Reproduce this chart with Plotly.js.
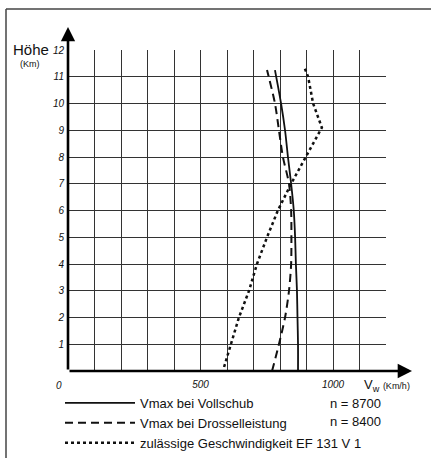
<!DOCTYPE html>
<html>
<head>
<meta charset="utf-8">
<script src="https://cdn.plot.ly/plotly-3.0.1.min.js"></script>
<style>
html,body{margin:0;padding:0;background:#fff;}
#chart{width:431px;height:458px;}
</style>
</head>
<body>
<div id="chart"></div>
<script>
// Höhe (km) and speed (km/h)
var hoeheVoll = [0, 1, 2, 3, 4, 5, 6, 7, 8, 9, 10, 11.25];
var vVoll     = [868, 868, 866, 864, 860, 857, 852, 842, 830, 819, 804, 781];

var hoeheDross = [0, 1, 2, 3, 4, 5, 6, 7, 8, 9, 10, 11.25];
var vDross     = [770, 796, 819, 834, 842, 843, 842, 834, 811, 796, 781, 751];

var hoeheZul = [0.15, 1, 2, 3, 4, 5, 6, 7, 8, 9.1, 10, 11, 11.3];
var vZul     = [589, 615, 645, 683, 713, 751, 792, 842, 898, 958, 925, 906, 894];

var seriesNames = ["Vmax bei Vollschub", "Vmax bei Drosselleistung", "zulässige Geschwindigkeit EF 131 V 1"];
var seriesN = ["n = 8700", "n = 8400"];

var xTickVals = [0,100,200,300,400,500,600,700,800,900,1000,1100,1200];
var xTickText = ["","","","","","500","","","","","1000","",""];
var yTickVals = [1,2,3,4,5,6,7,8,9,10,11,12];
var yTickText = ["1","2","3","4","5","6","7","8","9","10","11","12"];

var FONT = "Liberation Sans, Arial, sans-serif";

var traces = [
  {x: vVoll, y: hoeheVoll, name: seriesNames[0], mode: "lines",
   line: {color: "#111", width: 1.8, shape: "spline", smoothing: 0.8}},
  {x: vDross, y: hoeheDross, name: seriesNames[1], mode: "lines",
   line: {color: "#111", width: 2, dash: "8px,5px", shape: "spline", smoothing: 0.8}},
  {x: vZul, y: hoeheZul, name: seriesNames[2], mode: "lines",
   line: {color: "#111", width: 2.5, dash: "dot"}}
];

function px(x) { return (x - 68) / 318; }
function py(y) { return (371 - y) / 321; }

function label(x, y, text, size, extra) {
  var a = {xref: "paper", yref: "paper", x: px(x), y: py(y), text: text, showarrow: false,
    xanchor: "center", yanchor: "middle", font: {family: FONT, size: size, color: "#111"}};
  for (var k in (extra || {})) a[k] = extra[k];
  return a;
}

var annotations = [
  // axis arrows
  {xref: "paper", yref: "paper", x: 0, y: py(27), ax: 0, ay: 344, text: "",
   showarrow: true, arrowhead: 2, arrowsize: 1.1, arrowwidth: 2.6, arrowcolor: "#000", standoff: 0},
  {xref: "paper", yref: "paper", x: px(412), y: 0, ax: -344, ay: 0, text: "",
   showarrow: true, arrowhead: 2, arrowsize: 1.1, arrowwidth: 2.6, arrowcolor: "#000", standoff: 0},
  // axis titles
  label(31, 49, "Höhe", 15),
  label(30, 64, "(Km)", 9),
  label(59, 385, "0", 10, {font: {family: FONT, size: 10, color: "#111", style: "italic"}}),
  label(362, 386, "V<sub>w</sub> <span style='font-size:9px'>(Km/h)</span>", 13, {xanchor: "left"}),
  // n values beside legend
  label(328, 403, seriesN[0], 13, {xanchor: "left"}),
  label(328, 422, seriesN[1], 13, {xanchor: "left"})
];

var shapes = [
  {type: "line", xref: "paper", yref: "paper", x0: px(6), x1: px(6), y0: py(458), y1: py(9),
   line: {color: "#444", width: 1.5}},
  {type: "line", xref: "paper", yref: "paper", x0: px(6), x1: px(431), y0: py(9), y1: py(9),
   line: {color: "#444", width: 1.5}}
];

var layout = {
  width: 431, height: 458,
  margin: {l: 68, r: 45, t: 50, b: 87, pad: 0, autoexpand: false},
  paper_bgcolor: "#fff", plot_bgcolor: "#fff",
  font: {family: FONT, color: "#111"},
  xaxis: {range: [0, 1200], tickvals: xTickVals, ticktext: xTickText, showgrid: true,
    gridcolor: "#333", gridwidth: 1, zeroline: false, showline: false, ticks: "",
    tickfont: {family: FONT, size: 10, color: "#111", style: "italic"}, ticklabelstandoff: 6, fixedrange: true},
  yaxis: {range: [0, 12], tickvals: yTickVals, ticktext: yTickText, showgrid: true,
    gridcolor: "#333", gridwidth: 1, zeroline: false, showline: false, ticks: "",
    tickfont: {family: FONT, size: 10, color: "#111", style: "italic"}, ticklabelstandoff: 3, fixedrange: true},
  showlegend: true,
  legend: {xref: "paper", yref: "paper", x: px(60), y: py(388), xanchor: "left", yanchor: "top",
    orientation: "v", font: {family: FONT, size: 13, color: "#111"}, itemwidth: 70,
    bgcolor: "rgba(0,0,0,0)", tracegroupgap: 0, traceorder: "normal"},
  annotations: annotations,
  shapes: shapes
};

Plotly.newPlot("chart", traces, layout, {displayModeBar: false, staticPlot: true});
</script>
</body>
</html>
